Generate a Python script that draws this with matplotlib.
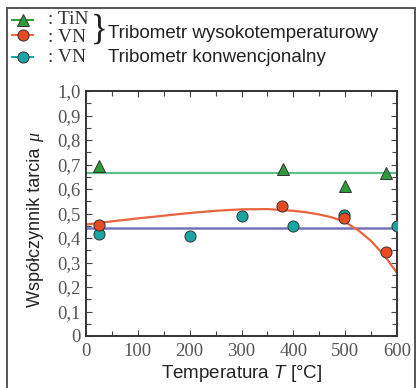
import matplotlib
matplotlib.use("Agg")
import matplotlib.pyplot as plt
from matplotlib.patches import Rectangle
from matplotlib.lines import Line2D
from matplotlib.ticker import MultipleLocator, FixedLocator, FixedFormatter

plt.rcParams["mathtext.fontset"] = "custom"
plt.rcParams["mathtext.it"] = "Liberation Sans:italic"

# ---- data ----
tin_T = [25, 380, 500, 578]
tin_mu = [0.694, 0.680, 0.613, 0.664]
tin_mean = 0.664

vn_ht_T = [25, 378, 498, 578]
vn_ht_mu = [0.453, 0.532, 0.480, 0.341]
vn_curve_T = [0, 50, 100, 150, 200, 250, 300, 350, 400, 425, 450, 475, 500, 525, 550, 575, 600]
vn_curve_mu = [0.455, 0.468, 0.480, 0.491, 0.502, 0.511, 0.517, 0.518, 0.511, 0.505,
               0.496, 0.484, 0.465, 0.432, 0.388, 0.330, 0.258]

vn_conv_T = [25, 200, 300, 400, 498, 600]
vn_conv_mu = [0.416, 0.408, 0.488, 0.448, 0.494, 0.450]
vn_conv_mean = 0.442

x_ticks = [0, 100, 200, 300, 400, 500, 600]
x_labels = ["0", "100", "200", "300", "400", "500", "600"]
y_ticks = [0, 0.1, 0.2, 0.3, 0.4, 0.5, 0.6, 0.7, 0.8, 0.9, 1.0]
y_labels = ["0", "0,1", "0,2", "0,3", "0,4", "0,5", "0,6", "0,7", "0,8", "0,9", "1,0"]

# ---- colours ----
c_green = "#2e9a3a"
c_green_line = "#62bc8c"
c_red = "#e84a22"
c_red_line = "#e8643e"
c_teal = "#1aa5a3"
c_blue_line = "#7474b8"
edge = "#333333"

W, H = 419, 388
fig = plt.figure(figsize=(W / 100, H / 100), dpi=100)
ax = fig.add_axes([86 / W, 1 - 336 / H, (397 - 86) / W, (336 - 91) / H])

# lines
ax.plot([0, 600], [tin_mean, tin_mean], color=c_green_line, lw=1.6, zorder=2)
ax.plot([0, 600], [vn_conv_mean, vn_conv_mean], color=c_blue_line, lw=1.8, zorder=2)
ax.plot(vn_curve_T, vn_curve_mu, color=c_red_line, lw=1.6, zorder=2)

# markers
ax.plot(vn_conv_T, vn_conv_mu, "o", ms=8, mfc=c_teal, mec=edge, mew=0.7, zorder=3)
ax.plot(vn_ht_T, vn_ht_mu, "o", ms=8, mfc=c_red, mec=edge, mew=0.7, zorder=4)
ax.plot(tin_T, tin_mu, "^", ms=8.5, mfc=c_green, mec=edge, mew=0.7, zorder=4)

ax.set_xlim(0, 600)
ax.set_ylim(0, 1.0)

serif = ["Liberation Serif", "DejaVu Serif"]
sans = ["Liberation Sans", "DejaVu Sans"]
tick_color = "#555555"

ax.xaxis.set_major_locator(FixedLocator(x_ticks))
ax.xaxis.set_major_formatter(FixedFormatter(x_labels))
ax.xaxis.set_minor_locator(MultipleLocator(50))
ax.yaxis.set_major_locator(FixedLocator(y_ticks))
ax.yaxis.set_major_formatter(FixedFormatter(y_labels))
ax.yaxis.set_minor_locator(MultipleLocator(0.05))

ax.tick_params(which="both", direction="in", top=True, right=True,
               color="#444444", width=0.8)
ax.tick_params(which="major", length=4.5)
ax.tick_params(which="minor", length=3.5)
ax.tick_params(axis="x", which="major", pad=5, labelsize=13.5, labelcolor=tick_color)
ax.tick_params(axis="y", which="major", pad=4, labelsize=13.5, labelcolor=tick_color)
for lab in ax.get_xticklabels() + ax.get_yticklabels():
    lab.set_family(serif)

for s in ax.spines.values():
    s.set_color("#333333")
    s.set_linewidth(1.4)

ax.set_xlabel(r"Temperatura $\mathit{T}$ [°C]", fontsize=13.5, family=sans,
              color="#222222", labelpad=2)

# y label with serif italic mu
fig.text(36 / W, 1 - 227 / H, "Współczynnik tarcia", rotation=90, fontsize=13,
         family=sans, color="#222222", ha="center", va="center")
fig.text(36 / W, 1 - 137 / H, "μ", rotation=90, fontsize=13, family=serif,
         style="italic", color="#222222", ha="center", va="center")

# ---- custom legend ----
def fx(px):
    return px / W

def fy(py):
    return 1 - py / H

def leg_marker(y, marker, mfc, lc):
    fig.add_artist(Line2D([fx(12), fx(33)], [fy(y), fy(y)], color=lc, lw=1.4,
                          transform=fig.transFigure))
    fig.add_artist(Line2D([fx(22.5)], [fy(y)], marker=marker, ms=8 if marker == "o" else 8.5,
                          mfc=mfc, mec=edge, mew=0.7, transform=fig.transFigure))

leg_marker(20, "^", c_green, c_green)
leg_marker(35, "o", c_red, c_red_line)
leg_marker(57, "o", c_teal, c_teal)

fig.text(fx(48), fy(20), ": TiN", fontsize=14, family=serif, color="#333333",
         va="center", ha="left")
fig.text(fx(48), fy(37), ": VN", fontsize=14, family=serif, color="#333333",
         va="center", ha="left")
fig.text(fx(48), fy(58), ": VN", fontsize=14, family=serif, color="#333333",
         va="center", ha="left")
fig.text(fx(91), fy(30), "}", fontsize=25, family=serif, color="#222222",
         va="center", ha="left")
fig.text(fx(108), fy(33), "Tribometr wysokotemperaturowy", fontsize=13.5,
         family=sans, color="#222222", va="center", ha="left")
fig.text(fx(108), fy(57), "Tribometr konwencjonalny", fontsize=13.5,
         family=sans, color="#222222", va="center", ha="left")

# outer frame
fig.add_artist(Rectangle((fx(7), -0.05), fx(415) - fx(7), fy(8) + 0.05,
                         transform=fig.transFigure, fill=False,
                         edgecolor="#555555", lw=1.4))

fig.savefig("out.png", dpi=100)
